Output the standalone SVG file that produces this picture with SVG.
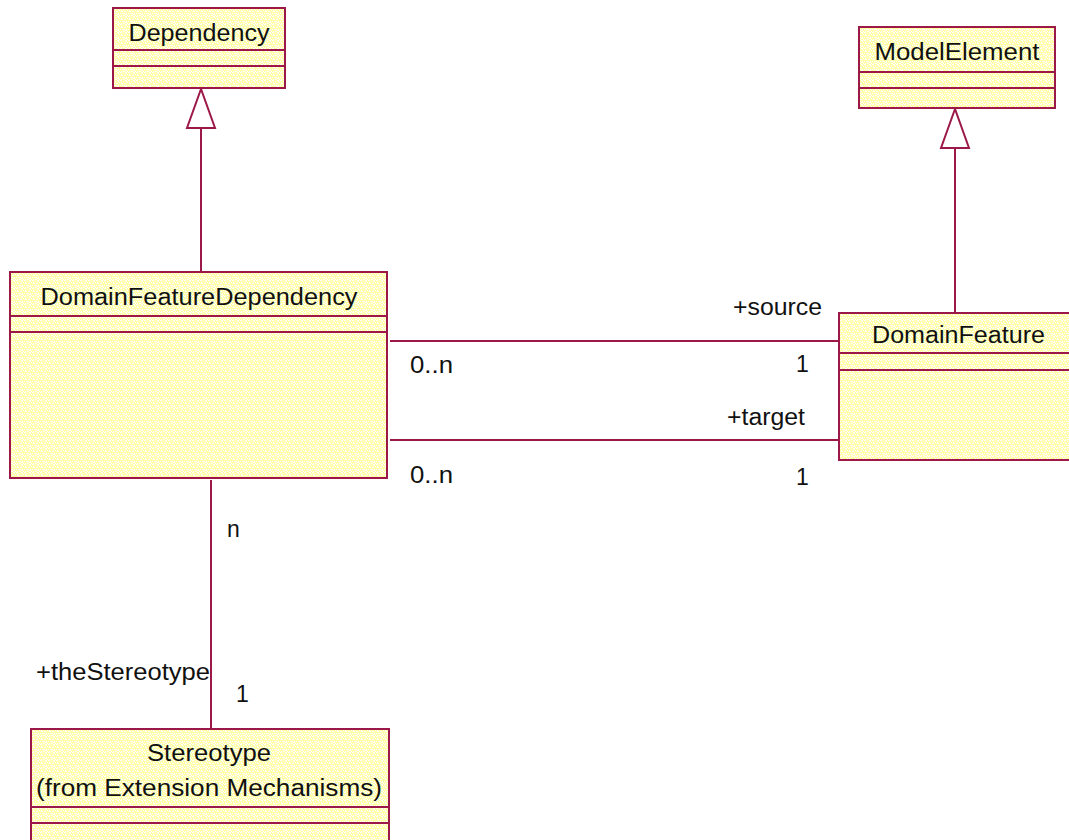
<svg xmlns="http://www.w3.org/2000/svg" width="1069" height="840" viewBox="0 0 1069 840">
  <defs>
    <!-- dithered pale-yellow class fill -->
    <pattern id="dither" width="8" height="8" patternUnits="userSpaceOnUse">
      <rect width="8" height="8" fill="#FFFFA8"/>
      <g fill="#FFFFFF">
        <rect x="0" y="0" width="2" height="1"/>
        <rect x="3" y="1" width="1" height="1"/>
        <rect x="5" y="0" width="2" height="1"/>
        <rect x="1" y="2" width="1" height="2"/>
        <rect x="4" y="3" width="2" height="1"/>
        <rect x="7" y="2" width="1" height="1"/>
        <rect x="0" y="5" width="1" height="1"/>
        <rect x="2" y="5" width="2" height="1"/>
        <rect x="6" y="5" width="1" height="2"/>
        <rect x="3" y="7" width="2" height="1"/>
        <rect x="1" y="7" width="1" height="1"/>
        <rect x="5" y="6" width="1" height="1"/>
        <rect x="7" y="7" width="1" height="1"/>
        <rect x="2" y="3" width="1" height="1"/>
        <rect x="6" y="1" width="1" height="1"/>
        <rect x="4" y="5" width="1" height="1"/>
      </g>
    </pattern>
    <style>
      .box { fill: url(#dither); stroke: #9C1848; stroke-width: 2; }
      .sep { stroke: #9C1848; stroke-width: 2; fill: none; }
      .edge { stroke: #9C1848; stroke-width: 2; fill: none; }
      .tri { fill: #FFFFFF; stroke: #9C1848; stroke-width: 2; stroke-linejoin: miter; }
      text { font-family: "Liberation Sans", Arial, sans-serif; font-size: 23px; fill: #111111; }
      .name { text-anchor: middle; }
    </style>
  </defs>

  <rect width="1069" height="840" fill="#FFFFFF"/>

  <!-- connectors -->
  <g id="connectors">
    <!-- generalization DomainFeatureDependency -> Dependency -->
    <line class="edge" x1="201" y1="128" x2="201" y2="272"/>
    <polygon class="tri" points="201,89 187,128 215,128"/>
    <!-- generalization DomainFeature -> ModelElement -->
    <line class="edge" x1="955" y1="148" x2="955" y2="313"/>
    <polygon class="tri" points="955,109 941,148 969,148"/>
    <!-- source association -->
    <line class="edge" x1="390" y1="341" x2="839" y2="341"/>
    <!-- target association -->
    <line class="edge" x1="390" y1="440" x2="839" y2="440"/>
    <!-- stereotype association -->
    <line class="edge" x1="211" y1="480" x2="211" y2="729"/>

    <text x="733" y="315" textLength="89" lengthAdjust="spacingAndGlyphs">+source</text>
    <text x="796" y="372">1</text>
    <text x="410" y="373" textLength="43" lengthAdjust="spacingAndGlyphs">0..n</text>
    <text x="727" y="425" textLength="78" lengthAdjust="spacingAndGlyphs">+target</text>
    <text x="796" y="485">1</text>
    <text x="410" y="483" textLength="43" lengthAdjust="spacingAndGlyphs">0..n</text>
    <text x="227" y="537">n</text>
    <text x="36" y="680" textLength="174" lengthAdjust="spacingAndGlyphs">+theStereotype</text>
    <text x="236" y="702">1</text>
  </g>

  <!-- Dependency -->
  <g id="dependency">
    <rect class="box" x="113" y="8" width="172" height="80"/>
    <line class="sep" x1="113" y1="50" x2="285" y2="50"/>
    <line class="sep" x1="113" y1="66" x2="285" y2="66"/>
    <text class="name" x="199" y="41" textLength="141" lengthAdjust="spacingAndGlyphs">Dependency</text>
  </g>

  <!-- ModelElement -->
  <g id="modelElement">
    <rect class="box" x="859" y="27" width="196" height="81"/>
    <line class="sep" x1="859" y1="72" x2="1055" y2="72"/>
    <line class="sep" x1="859" y1="88" x2="1055" y2="88"/>
    <text class="name" x="957" y="60" textLength="165" lengthAdjust="spacingAndGlyphs">ModelElement</text>
  </g>

  <!-- DomainFeatureDependency -->
  <g id="domainFeatureDependency">
    <rect class="box" x="10" y="272" width="377" height="206"/>
    <line class="sep" x1="10" y1="316" x2="387" y2="316"/>
    <line class="sep" x1="10" y1="332" x2="387" y2="332"/>
    <text class="name" x="199" y="305" textLength="317" lengthAdjust="spacingAndGlyphs">DomainFeatureDependency</text>
  </g>

  <!-- DomainFeature -->
  <g id="domainFeature">
    <rect class="box" x="839" y="313" width="250" height="147"/>
    <line class="sep" x1="839" y1="353" x2="1089" y2="353"/>
    <line class="sep" x1="839" y1="370" x2="1089" y2="370"/>
    <text x="872" y="343" textLength="173" lengthAdjust="spacingAndGlyphs">DomainFeature</text>
  </g>

  <!-- Stereotype -->
  <g id="stereotype">
    <rect class="box" x="31" y="729" width="358" height="140"/>
    <line class="sep" x1="31" y1="807" x2="389" y2="807"/>
    <line class="sep" x1="31" y1="823" x2="389" y2="823"/>
    <text class="name" x="209" y="761" textLength="124" lengthAdjust="spacingAndGlyphs">Stereotype</text>
    <text class="name" x="209" y="796" textLength="346" lengthAdjust="spacingAndGlyphs">(from Extension Mechanisms)</text>
  </g>
</svg>
